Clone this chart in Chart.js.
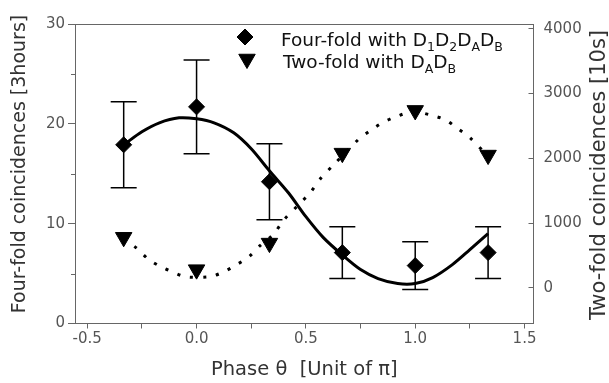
<!DOCTYPE html>
<html>
<head>
<meta charset="utf-8">
<script src="https://cdn.jsdelivr.net/npm/chart.js"></script>
<style>
  body { margin: 0; background: #fff; }
  #wrap { width: 609px; height: 383px; }
</style>
</head>
<body>
<div id="wrap"><canvas id="chart" width="609" height="383"></canvas></div>
<script>
// Measured points (phase in units of pi)
const phase = [-1/3, 0, 1/3, 2/3, 1, 4/3];
const fourFold = [17.9, 21.7, 14.2, 7.1, 5.8, 7.1];
const fourFoldErr = [4.3, 4.7, 3.8, 2.6, 2.4, 2.6];
const twoFold = [780, 280, 690, 2080, 2740, 2050];

// Fit curves
const fitPhase = [-0.333, -0.25, -0.17, -0.08, 0, 0.08, 0.17, 0.25, 0.333, 0.42, 0.5, 0.58, 0.67, 0.75, 0.83, 0.92, 1.0, 1.08, 1.17, 1.25, 1.333];
const fourFoldFit = [17.9, 19.2, 20.1, 20.6, 20.5, 20.1, 19.1, 17.5, 15.3, 13.1, 10.7, 8.6, 6.8, 5.4, 4.5, 4.0, 4.0, 4.6, 5.9, 7.4, 9.0];
const dotPhase = [-0.333, -0.27, -0.22, -0.16, -0.1, -0.05, 0.06, 0.12, 0.18, 0.24, 0.29, 0.35, 0.40, 0.46, 0.52, 0.57, 0.63, 0.74, 0.80, 0.85, 0.91, 0.99, 1.08, 1.14, 1.19, 1.25, 1.333];
const twoFoldFit = [760, 600, 440, 320, 230, 170, 170, 240, 350, 480, 650, 820, 1050, 1260, 1470, 1700, 1910, 2290, 2440, 2550, 2640, 2720, 2660, 2590, 2470, 2320, 2030];

// Axis ticks
const leftMinorTicks = [5, 15, 25];
const rightTicks = [0, 1000, 2000, 3000, 4000];

const FONT = "'DejaVu Sans', Verdana, sans-serif";
const AXIS_COLOR = '#666';

function pts(xs, ys) {
    return xs.map((x, i) => ({ x: x, y: ys[i] }));
}

// Error bars, drawn under the diamonds
const errorBars = {
    id: 'errorBars',
    beforeDatasetsDraw(chart) {
        const ctx = chart.ctx;
        const xs = chart.scales.x, ys = chart.scales.y;
        ctx.save();
        ctx.strokeStyle = '#000';
        ctx.lineWidth = 1.5;
        phase.forEach((p, i) => {
            const px = xs.getPixelForValue(p);
            const top = ys.getPixelForValue(fourFold[i] + fourFoldErr[i]);
            const bot = ys.getPixelForValue(fourFold[i] - fourFoldErr[i]);
            ctx.beginPath();
            ctx.moveTo(px, top); ctx.lineTo(px, bot);
            ctx.moveTo(px - 13, top); ctx.lineTo(px + 13, top);
            ctx.moveTo(px - 13, bot); ctx.lineTo(px + 13, bot);
            ctx.stroke();
        });
        ctx.restore();
    }
};

// Top frame line, minor ticks on the left axis, and both y titles (read bottom to top)
const frame = {
    id: 'frame',
    afterDraw(chart) {
        const ctx = chart.ctx;
        const a = chart.chartArea;
        const ys = chart.scales.y;
        ctx.save();
        ctx.strokeStyle = AXIS_COLOR;
        ctx.lineWidth = 1;
        ctx.beginPath();
        ctx.moveTo(a.left, a.top + 0.5);
        ctx.lineTo(a.right, a.top + 0.5);
        leftMinorTicks.forEach(v => {
            const y = Math.round(ys.getPixelForValue(v)) + 0.5;
            ctx.moveTo(a.left - 4, y);
            ctx.lineTo(a.left, y);
        });
        ctx.stroke();

        ctx.fillStyle = '#333';
        ctx.textAlign = 'center';
        ctx.textBaseline = 'middle';
        ctx.save();
        ctx.translate(20, 164);
        ctx.rotate(-Math.PI / 2);
        ctx.font = '19px ' + FONT;
        ctx.fillText('Four-fold coincidences [3hours]', 0, 0);
        ctx.restore();
        ctx.save();
        ctx.translate(600, 175);
        ctx.rotate(-Math.PI / 2);
        ctx.font = '21px ' + FONT;
        ctx.fillText('Two-fold coincidences [10s]', 0, 0);
        ctx.restore();
        ctx.restore();
    }
};

// Legend with subscripts
function drawMarker(ctx, style, rotation, radius, x, y) {
    if (Chart.helpers && Chart.helpers.drawPoint) {
        Chart.helpers.drawPoint(ctx, { pointStyle: style, rotation: rotation, radius: radius, borderWidth: 1 }, x, y);
        return;
    }
    ctx.beginPath();
    if (style === 'rectRot') {
        ctx.moveTo(x, y - radius); ctx.lineTo(x + radius, y);
        ctx.lineTo(x, y + radius); ctx.lineTo(x - radius, y);
    } else {
        ctx.moveTo(x - radius * 0.866, y - radius / 2);
        ctx.lineTo(x + radius * 0.866, y - radius / 2);
        ctx.lineTo(x, y + radius);
    }
    ctx.closePath();
    ctx.fill();
}

function drawSubText(ctx, parts, x, y) {
    parts.forEach(p => {
        if (p.sub) {
            ctx.font = '12.5px ' + FONT;
            ctx.fillText(p.t, x, y + 5);
        } else {
            ctx.font = '18.5px ' + FONT;
            ctx.fillText(p.t, x, y);
        }
        x += ctx.measureText(p.t).width;
    });
}

const legendBox = {
    id: 'legendBox',
    afterDraw(chart) {
        const ctx = chart.ctx;
        ctx.save();
        ctx.fillStyle = '#000';
        ctx.strokeStyle = '#000';
        drawMarker(ctx, 'rectRot', 0, 8, 245, 37);
        drawMarker(ctx, 'triangle', 180, 9.5, 247, 59);
        ctx.fillStyle = '#111';
        ctx.textBaseline = 'alphabetic';
        ctx.textAlign = 'left';
        drawSubText(ctx, [
            { t: 'Four-fold with D' }, { t: '1', sub: true }, { t: 'D' }, { t: '2', sub: true },
            { t: 'D' }, { t: 'A', sub: true }, { t: 'D' }, { t: 'B', sub: true }
        ], 281, 46);
        drawSubText(ctx, [
            { t: 'Two-fold with D' }, { t: 'A', sub: true }, { t: 'D' }, { t: 'B', sub: true }
        ], 283, 68);
        ctx.restore();
    }
};

new Chart(document.getElementById('chart'), {
    type: 'scatter',
    data: {
        datasets: [
            {
                label: 'Four-fold fit',
                data: pts(fitPhase, fourFoldFit),
                yAxisID: 'y',
                showLine: true,
                borderColor: '#000',
                borderWidth: 3,
                pointRadius: 0,
                tension: 0.3
            },
            {
                label: 'Two-fold fit',
                data: pts(dotPhase, twoFoldFit),
                yAxisID: 'y2',
                showLine: true,
                borderColor: '#000',
                borderWidth: 3,
                borderDash: [3, 10],
                pointRadius: 0,
                tension: 0.3
            },
            {
                label: 'Four-fold with D1D2DADB',
                data: pts(phase, fourFold),
                yAxisID: 'y',
                pointStyle: 'rectRot',
                pointRadius: 8,
                backgroundColor: '#000',
                borderColor: '#000'
            },
            {
                label: 'Two-fold with DADB',
                data: pts(phase, twoFold),
                yAxisID: 'y2',
                pointStyle: 'triangle',
                rotation: 180,
                pointRadius: 9.5,
                backgroundColor: '#000',
                borderColor: '#000'
            }
        ]
    },
    options: {
        responsive: false,
        animation: false,
        layout: { padding: { top: 13, left: 0, right: 0, bottom: 0 } },
        plugins: {
            legend: { display: false },
            tooltip: { enabled: false }
        },
        scales: {
            x: {
                type: 'linear',
                position: 'bottom',
                min: -0.556,
                max: 1.541,
                afterFit(scale) { scale.height = 59.5; },
                border: { display: true, color: AXIS_COLOR, width: 1 },
                grid: { display: true, drawOnChartArea: false, color: AXIS_COLOR, tickLength: 5 },
                ticks: {
                    stepSize: 0.25,
                    includeBounds: false,
                    autoSkip: false,
                    maxRotation: 0,
                    padding: 2,
                    color: '#555',
                    font: { family: FONT, size: 15 },
                    callback: v => (Math.abs(v * 2 - Math.round(v * 2)) < 1e-9 ? v.toFixed(1) : '')
                },
                title: {
                    display: true,
                    text: 'Phase θ  [Unit of π]',
                    color: '#333',
                    font: { family: FONT, size: 19.5 },
                    padding: { top: 0, bottom: 1.5 }
                }
            },
            y: {
                type: 'linear',
                position: 'left',
                min: 0,
                max: 30,
                afterFit(scale) { scale.width = 75; },
                border: { display: true, color: AXIS_COLOR, width: 1 },
                grid: { display: true, drawOnChartArea: false, color: AXIS_COLOR, tickLength: 7 },
                ticks: {
                    stepSize: 10,
                    padding: 3,
                    color: '#555',
                    font: { family: FONT, size: 15 }
                }
            },
            y2: {
                type: 'linear',
                position: 'right',
                min: -552,
                max: 4075,
                afterFit(scale) { scale.width = 75.5; },
                afterBuildTicks(scale) { scale.ticks = rightTicks.map(v => ({ value: v })); },
                border: { display: true, color: AXIS_COLOR, width: 1 },
                grid: { display: true, drawOnChartArea: false, color: AXIS_COLOR, tickLength: -5 },
                ticks: {
                    padding: 15,
                    color: '#555',
                    font: { family: FONT, size: 15 },
                    callback: v => String(v)
                }
            }
        }
    },
    plugins: [errorBars, frame, legendBox]
});
</script>
</body>
</html>
